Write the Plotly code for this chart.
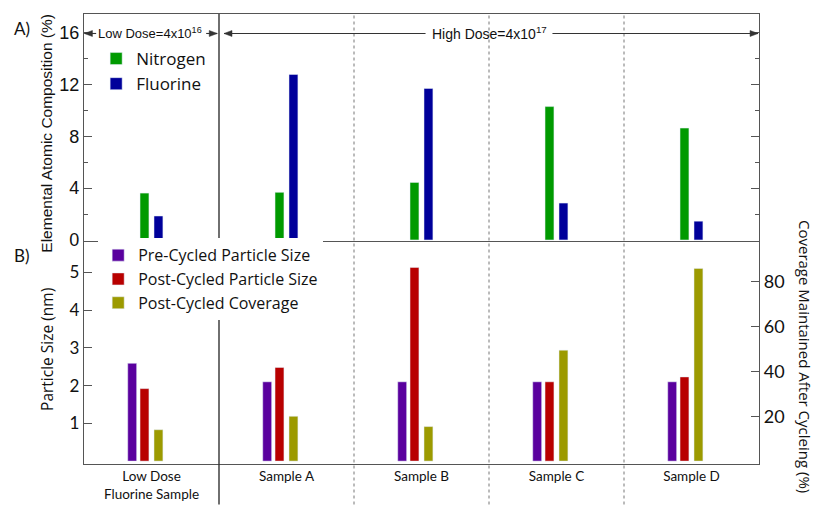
import plotly.graph_objects as go

# ---- data ----
categories = ["Low Dose<br>Fluorine Sample", "Sample A", "Sample B", "Sample C", "Sample D"]
nitrogen = [3.62, 3.68, 4.44, 10.3, 8.64]        # at.%
fluorine = [1.85, 12.78, 11.7, 2.85, 1.45]       # at.%
pre_cycled_size = [2.59, 2.10, 2.10, 2.10, 2.10]  # nm
post_cycled_size = [1.92, 2.48, 5.13, 2.10, 2.23] # nm
post_cycled_coverage = [14.0, 20.0, 15.4, 49.5, 86.0]  # %

top_ticks = [0, 4, 8, 12, 16]
size_ticks = [1, 2, 3, 4, 5]
coverage_ticks = [20, 40, 60, 80]

# ---- styling ----
W, H = 814, 514
ML, MR, MT, MB = 84, 55, 14, 38
SPLIT = 0.4957  # boundary between the two panels (paper fraction)
AXIS_COLOR = "#555555"
ARROW_COLOR = "#333333"
FONT = "Liberation Sans, Arial, sans-serif"
LEG_FONT = "Open Sans, Lato, sans-serif"
LBL_FONT = "Lato, Liberation Sans, sans-serif"

C_N = "#009a00"
C_F = "#00009a"
C_PRE = "#5a009e"
C_POST = "#b80000"
C_COV = "#9c9a00"

BAR_W = 0.066
OFF_L = -0.176
OFF_M = -0.085
OFF_R = 0.0185

fig = go.Figure()

# panel A: elemental composition
fig.add_trace(go.Bar(x=categories, y=nitrogen, name="Nitrogen", marker_color=C_N,
                     width=BAR_W, offset=OFF_M, xaxis="x", yaxis="y", legend="legend"))
fig.add_trace(go.Bar(x=categories, y=fluorine, name="Fluorine", marker_color=C_F,
                     width=BAR_W, offset=OFF_R, xaxis="x", yaxis="y", legend="legend"))

# panel B: particle size and coverage
fig.add_trace(go.Bar(x=categories, y=pre_cycled_size, name="Pre-Cycled Particle Size",
                     marker_color=C_PRE, width=BAR_W, offset=OFF_L,
                     xaxis="x2", yaxis="y2", legend="legend2"))
fig.add_trace(go.Bar(x=categories, y=post_cycled_size, name="Post-Cycled Particle Size",
                     marker_color=C_POST, width=BAR_W, offset=OFF_M,
                     xaxis="x2", yaxis="y2", legend="legend2"))
fig.add_trace(go.Bar(x=categories, y=post_cycled_coverage, name="Post-Cycled Coverage",
                     marker_color=C_COV, width=BAR_W, offset=OFF_R,
                     xaxis="x2", yaxis="y3", legend="legend2"))

axis_common = dict(showgrid=False, zeroline=False, linecolor=AXIS_COLOR, linewidth=1.3,
                   tickcolor=AXIS_COLOR, tickwidth=1.2)

fig.update_layout(
    width=W, height=H,
    margin=dict(l=ML, r=MR, t=MT, b=MB),
    paper_bgcolor="white", plot_bgcolor="white",
    barmode="overlay",
    font=dict(family=FONT, color="#111111"),
    xaxis=dict(domain=[0, 1], anchor="y", type="category", categoryorder="array",
               categoryarray=categories, range=[-0.5, 4.5], showticklabels=False,
               ticks="", showline=True, mirror=True, **axis_common),
    yaxis=dict(domain=[SPLIT, 1], anchor="x", range=[-0.075, 17.45],
               tickvals=top_ticks, ticks="inside", ticklen=8, showline=True,
               mirror="allticks", tickfont=dict(size=18),
               minor=dict(ticks="inside", ticklen=4, dtick=2, tick0=0,
                          tickcolor=AXIS_COLOR, showgrid=False),
               **axis_common),
    xaxis2=dict(domain=[0, 1], anchor="y2", type="category", categoryorder="array",
                categoryarray=categories, range=[-0.5, 4.5], ticks="",
                showline=True, tickfont=dict(size=13.5, family=LBL_FONT),
                **axis_common),
    yaxis2=dict(domain=[0, SPLIT], anchor="x2", range=[-0.077, 5.832],
                tickvals=size_ticks, ticks="inside", ticklen=8, showline=True,
                tickfont=dict(size=17, family=LBL_FONT), **axis_common),
    yaxis3=dict(overlaying="y2", side="right", anchor="x2", range=[-1.30, 98.26],
                tickvals=coverage_ticks, ticks="inside", ticklen=8, showline=True,
                tickfont=dict(size=18, family=LBL_FONT), **axis_common),
    legend=dict(x=0.018, y=0.94, xanchor="left", yanchor="top",
                bgcolor="rgba(255,255,255,0)", font=dict(size=17, family=LEG_FONT),
                itemwidth=30, tracegroupgap=0),
    legend2=dict(x=0.021, y=SPLIT + 0.006, xanchor="left", yanchor="top",
                 bgcolor="white", font=dict(size=16, family=LEG_FONT),
                 itemwidth=30, tracegroupgap=0),
)

# category separators: solid after the low-dose sample, dashed between samples
shapes = [dict(type="line", xref="x", yref="paper", x0=0.5, x1=0.5, y0=-0.09, y1=1,
               line=dict(color="#333333", width=1.4), layer="above")]
for b in [1.5, 2.5, 3.5]:
    shapes.append(dict(type="line", xref="x", yref="paper", x0=b, x1=b, y0=-0.09, y1=1,
                       line=dict(color="#777777", width=1, dash="3px,3px"), layer="below"))

# dose-range arrows: shaft from the label edge to the range limit, plus a small head
ARROW_Y = 0.9567
HEAD_LEFT = "M0,0 L8,-3 L8,3 Z"
HEAD_RIGHT = "M0,0 L-8,-3 L-8,3 Z"
dose_arrows = [  # (label edge, range limit)
    (-0.41, -0.497), (0.405, 0.487), (2.03, 0.537), (2.97, 4.493),
]
for edge, tip in dose_arrows:
    shapes.append(dict(type="line", xref="x", yref="paper", x0=edge, x1=tip,
                       y0=ARROW_Y, y1=ARROW_Y, line=dict(color=ARROW_COLOR, width=1.1)))
    shapes.append(dict(type="path", xref="x", yref="paper", xsizemode="pixel",
                       ysizemode="pixel", xanchor=tip, yanchor=ARROW_Y,
                       path=HEAD_LEFT if tip < edge else HEAD_RIGHT,
                       fillcolor=ARROW_COLOR, line=dict(color=ARROW_COLOR, width=0.5)))
fig.update_layout(shapes=shapes)

annotations = [
    dict(text="A)", xref="paper", yref="paper", x=-0.092, y=0.9675, showarrow=False,
         xanchor="center", yanchor="middle", font=dict(size=17, family=LBL_FONT)),
    dict(text="B)", xref="paper", yref="paper", x=-0.092, y=0.463, showarrow=False,
         xanchor="center", yanchor="middle", font=dict(size=17, family=LBL_FONT)),
    dict(text="Elemental Atomic Composition (%)", xref="paper", yref="paper",
         x=-0.055, y=0.736, xanchor="center", yanchor="middle", textangle=-90,
         showarrow=False, font=dict(size=15.5)),
    dict(text="Particle Size (nm)", xref="paper", yref="paper",
         x=-0.055, y=0.2554, xanchor="center", yanchor="middle", textangle=-90,
         showarrow=False, font=dict(size=15.5, family=LEG_FONT)),
    dict(text="Coverage Maintained After Cycleing (%)", xref="paper", yref="paper",
         x=1.068, y=0.238, xanchor="center", yanchor="middle", textangle=90,
         showarrow=False, font=dict(size=15, family=LEG_FONT)),
    dict(text="Low Dose=4x10<sup>16</sup>", xref="x", yref="paper", x=-0.01, y=ARROW_Y,
         xanchor="center", yanchor="middle", showarrow=False, font=dict(size=13)),
    dict(text="High Dose=4x10<sup>17</sup>", xref="x", yref="paper", x=2.5, y=ARROW_Y,
         xanchor="center", yanchor="middle", showarrow=False, font=dict(size=14)),
]
fig.update_layout(annotations=annotations)

fig.write_html("out.html")
